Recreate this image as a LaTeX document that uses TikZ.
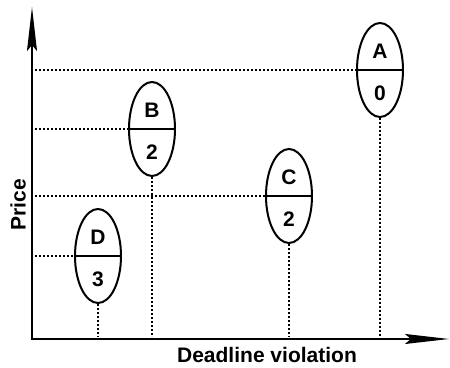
\documentclass[tikz,border=0pt]{standalone}
\usepackage{fontspec}
\setmainfont{Liberation Sans}
\usetikzlibrary{arrows.meta,positioning,shapes.geometric}
\tikzset{
  ax/.style={{Stealth[length=22pt,width=5pt,inset=3pt]}-{Stealth[length=22pt,width=5pt,inset=3pt]},line width=1pt},
  optell/.style={ellipse,draw,line width=1pt,minimum width=23pt,minimum height=47pt,inner sep=0pt},
  splitln/.style={line width=1pt},
  helperln/.style={line width=0.65pt,dash pattern=on 0.9pt off 1.1pt},
  tlab/.style={font=\fontsize{10.5}{12}\selectfont\bfseries,inner sep=0pt},
}

\begin{document}
\begin{tikzpicture}[x=0.5pt,y=0.5pt]
    \useasboundingbox (0,0) rectangle (450,368);
    \coordinate (O) at (32,29);
    \coordinate (ytip) at (32,361);
    \coordinate (xtip) at (449,29);
    % axes
    \draw[ax] (ytip) -- (O) -- (xtip);
    \node[tlab,rotate=90] (ylab) at (18,163) {Price};
    \node[tlab] (xlab) at (267,13) {Deadline violation};
    % offers: deadline violation vs price
    \node[optell] (a) at (380,298) {};
    \node[optell] (b) at (152,239) {};
    \node[optell] (c) at (289,172) {};
    \node[optell] (d) at (98,112) {};
    \draw[splitln] (a.west) -- (a.east);
    \draw[splitln] (b.west) -- (b.east);
    \draw[splitln] (c.west) -- (c.east);
    \draw[splitln] (d.west) -- (d.east);
    \node[tlab] (aT) at ([yshift=9.5pt]a.center) {A};
    \node[tlab] (aB) at ([yshift=-11.5pt]a.center) {0};
    \node[tlab] (bT) at ([yshift=9.5pt]b.center) {B};
    \node[tlab] (bB) at ([yshift=-11.5pt]b.center) {2};
    \node[tlab] (cT) at ([yshift=9.5pt]c.center) {C};
    \node[tlab] (cB) at ([yshift=-11.5pt]c.center) {2};
    \node[tlab] (dT) at ([yshift=9.5pt]d.center) {D};
    \node[tlab] (dB) at ([yshift=-11.5pt]d.center) {3};
    % projections onto the axes
    \draw[helperln] ([xshift=1.5pt]O |- a.west) -- (a.west);
    \draw[helperln] ([xshift=1.5pt]O |- b.west) -- (b.west);
    \draw[helperln] ([xshift=1.5pt]O |- c.west) -- (c.west);
    \draw[helperln] ([xshift=1.5pt]O |- d.west) -- (d.west);
    \draw[helperln] (a.south) -- ([yshift=1pt]a.south |- O);
    \draw[helperln] (b.south) -- ([yshift=1pt]b.south |- O);
    \draw[helperln] (c.south) -- ([yshift=1pt]c.south |- O);
    \draw[helperln] (d.south) -- ([yshift=1pt]d.south |- O);
\end{tikzpicture}
\end{document}
